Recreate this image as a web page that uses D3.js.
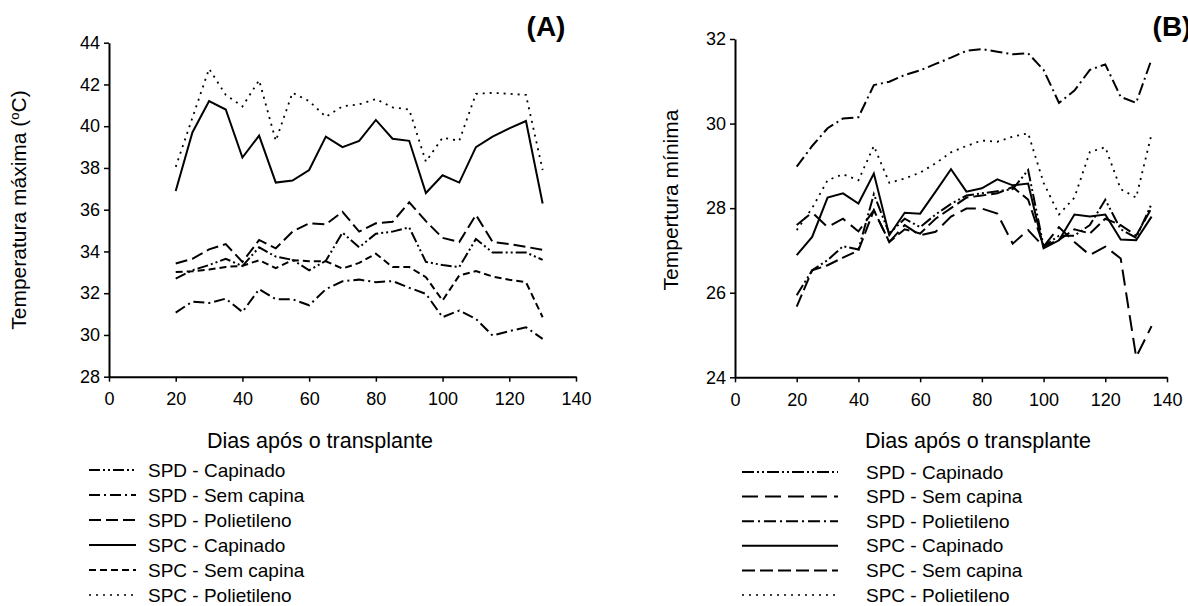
<!DOCTYPE html>
<html>
<head>
<meta charset="utf-8">
<script src="https://cdn.jsdelivr.net/npm/d3@7"></script>
<style>
    body { margin: 0; background: #fff; }
    svg { display: block; font-family: Arial, "Liberation Sans", sans-serif; }
</style>
</head>
<body>
<svg id="chart" width="1188" height="606"></svg>
<script>
/* ============================================
   TEMPERATURA MAXIMA (A) E MINIMA (B)
   ============================================ */

const seriesNames = ['SPD - Capinado', 'SPD - Sem capina', 'SPD - Polietileno',
                     'SPC - Capinado', 'SPC - Sem capina', 'SPC - Polietileno'];

// Painel A - temperatura máxima
const daysA = [20, 25, 30, 35, 40, 45, 50, 55, 60, 65, 70, 75, 80, 85, 90, 95, 100, 105, 110, 115, 120, 125, 130];
const spdCapinadoA   = [32.7, 33.1, 33.35, 33.65, 33.3, 34.2, 33.75, 33.6, 33.1, 33.55, 34.9, 34.2, 34.85, 34.95, 35.15, 33.5, 33.35, 33.25, 34.6, 33.95, 33.95, 33.95, 33.6];
const spdSemCapinaA  = [31.07, 31.6, 31.53, 31.74, 31.1, 32.19, 31.71, 31.71, 31.42, 32.19, 32.57, 32.65, 32.53, 32.58, 32.26, 31.97, 30.85, 31.17, 30.77, 29.97, 30.18, 30.37, 29.81];
const spdPolietilenoA = [33.42, 33.65, 34.1, 34.35, 33.5, 34.55, 34.15, 34.95, 35.35, 35.3, 35.9, 34.95, 35.35, 35.42, 36.35, 35.45, 34.65, 34.45, 35.75, 34.45, 34.35, 34.22, 34.08];
const spcCapinadoA   = [36.9, 39.7, 41.2, 40.8, 38.5, 39.55, 37.3, 37.4, 37.9, 39.5, 39.0, 39.3, 40.3, 39.4, 39.3, 36.8, 37.65, 37.3, 39.0, 39.5, 39.9, 40.25, 36.3];
const spcSemCapinaA  = [33.02, 33.05, 33.13, 33.26, 33.31, 33.58, 33.2, 33.58, 33.53, 33.53, 33.18, 33.45, 33.89, 33.25, 33.25, 32.77, 31.65, 32.85, 33.06, 32.8, 32.64, 32.53, 30.85];
const spcPolietilenoA = [38.05, 40.4, 42.75, 41.5, 40.95, 42.2, 39.3, 41.6, 41.2, 40.45, 40.95, 41.05, 41.3, 40.9, 40.8, 38.3, 39.45, 39.3, 41.55, 41.6, 41.55, 41.5, 37.9];

// Painel B - temperatura mínima
const daysB = [20, 25, 30, 35, 40, 45, 50, 55, 60, 65, 70, 75, 80, 85, 90, 95, 100, 105, 110, 115, 120, 125, 130, 135];
const spdCapinadoB   = [25.94, 26.53, 26.77, 27.1, 27.02, 28.33, 27.4, 27.75, 27.55, 27.85, 28.1, 28.3, 28.35, 28.4, 28.45, 28.9, 27.1, 27.35, 27.35, 27.6, 28.2, 27.5, 27.3, 28.1];
const spdSemCapinaB  = [27.6, 27.9, 27.55, 27.75, 27.45, 27.95, 27.2, 27.6, 27.36, 27.44, 27.8, 27.99, 27.99, 27.87, 27.16, 27.48, 27.09, 27.55, 27.2, 26.89, 27.09, 26.81, 24.48, 25.21];
const spdPolietilenoB = [28.98, 29.47, 29.89, 30.12, 30.15, 30.91, 30.99, 31.15, 31.26, 31.41, 31.56, 31.72, 31.76, 31.7, 31.64, 31.66, 31.27, 30.49, 30.78, 31.27, 31.4, 30.63, 30.49, 31.52];
const spcCapinadoB   = [26.89, 27.32, 28.25, 28.35, 28.11, 28.82, 27.36, 27.89, 27.87, 28.39, 28.92, 28.39, 28.47, 28.68, 28.54, 28.58, 27.05, 27.24, 27.85, 27.8, 27.85, 27.26, 27.24, 27.8];
const spcSemCapinaB  = [25.67, 26.53, 26.65, 26.83, 27.0, 27.95, 27.2, 27.5, 27.4, 27.75, 28.0, 28.25, 28.3, 28.35, 28.5, 28.2, 27.1, 27.25, 27.5, 27.4, 27.75, 27.6, 27.35, 28.0];
const spcPolietilenoB = [27.48, 28.0, 28.66, 28.8, 28.66, 29.47, 28.6, 28.7, 28.84, 29.06, 29.32, 29.47, 29.6, 29.57, 29.69, 29.77, 28.6, 27.85, 28.25, 29.33, 29.44, 28.45, 28.25, 29.75];

const xTicks = [0, 20, 40, 60, 80, 100, 120, 140];
const yTicksA = [28, 30, 32, 34, 36, 38, 40, 42, 44];
const yTicksB = [24, 26, 28, 30, 32];

// Estilos de linha (mesma ordem de seriesNames)
const dashA = ['11,3,2,3,2,3', '11,4,2,4', '12,5', null, '7,4', '2,5'];
const dashB = ['12,3,2,3,2,3', '16,7', '12,4,2,4', null, '13,5', '2,5'];

const svg = d3.select('#chart');

function drawPanel(cfg) {
    const x = d3.scaleLinear().domain([0, 140]).range(cfg.xRange);
    const y = d3.scaleLinear().domain(cfg.yDomain).range(cfg.yRange);
    const g = svg.append('g');

    // Eixos
    const xAxis = g.append('g')
        .attr('transform', `translate(0,${cfg.yRange[0]})`)
        .call(d3.axisBottom(x).tickValues(xTicks).tickSize(5).tickSizeOuter(0).tickPadding(11));
    const yAxis = g.append('g')
        .attr('transform', `translate(${cfg.xRange[0]},0)`)
        .call(d3.axisLeft(y).tickValues(cfg.yTicks).tickSize(5).tickSizeOuter(0).tickPadding(4));

    [xAxis, yAxis].forEach(a => {
        a.select('.domain').attr('stroke', '#000').attr('stroke-width', 2);
        a.selectAll('.tick line').attr('stroke', '#000').attr('stroke-width', 1.5);
        a.selectAll('.tick text').attr('fill', '#000').attr('font-size', '18px')
            .attr('font-family', 'Arial, "Liberation Sans", sans-serif');
    });

    // Linhas das séries
    const line = d3.line().x((d, i) => x(cfg.days[i])).y(d => y(d));
    cfg.series.forEach((values, i) => {
        g.append('path')
            .datum(values)
            .attr('fill', 'none')
            .attr('stroke', '#000')
            .attr('stroke-width', cfg.dash[i] === '2,5' ? 1.8 : 2)
            .attr('stroke-dasharray', cfg.dash[i])
            .attr('stroke-linejoin', 'miter')
            .attr('d', line);
    });

    // Título do eixo X
    g.append('text')
        .attr('x', cfg.xTitleX)
        .attr('y', 448)
        .attr('text-anchor', 'middle')
        .attr('font-size', '21.5px')
        .text('Dias após o transplante');

    // Título do eixo Y
    const yt = g.append('text')
        .attr('transform', `translate(${cfg.yTitleX},${cfg.yTitleY}) rotate(-90)`)
        .attr('text-anchor', 'middle')
        .attr('font-size', '21px');
    cfg.yTitle(yt);

    // Letra do painel
    g.append('text')
        .attr('x', cfg.letterX)
        .attr('y', 36)
        .attr('text-anchor', 'middle')
        .attr('font-size', '28px')
        .attr('font-weight', 'bold')
        .text(cfg.letter);

    // Legenda
    const leg = g.append('g');
    seriesNames.forEach((name, i) => {
        const ly = cfg.legendY + i * cfg.legendStep;
        leg.append('line')
            .attr('x1', cfg.legendX[0]).attr('x2', cfg.legendX[1])
            .attr('y1', ly).attr('y2', ly)
            .attr('stroke', '#000')
            .attr('stroke-width', cfg.dash[i] === '2,5' ? 1.5 : 2)
            .attr('stroke-dasharray', cfg.dash[i]);
        leg.append('text')
            .attr('x', cfg.legendText)
            .attr('y', ly)
            .attr('dy', '0.35em')
            .attr('font-size', '19px')
            .text(name);
    });
}

drawPanel({
    xRange: [109, 576], yDomain: [28, 44], yRange: [376.7, 42.7], yTicks: yTicksA,
    days: daysA,
    series: [spdCapinadoA, spdSemCapinaA, spdPolietilenoA, spcCapinadoA, spcSemCapinaA, spcPolietilenoA],
    dash: dashA,
    xTitleX: 320, yTitleX: 26, yTitleY: 210,
    yTitle: t => {
        t.append('tspan').text('Temperatura máxima (');
        t.append('tspan').attr('font-size', '13px').attr('dy', '-7').text('o');
        t.append('tspan').attr('dy', '7').text('C)');
    },
    letter: '(A)', letterX: 546,
    legendX: [89, 136], legendText: 148, legendY: 470, legendStep: 25
});

drawPanel({
    xRange: [735, 1167], yDomain: [24, 32], yRange: [377.3, 39], yTicks: yTicksB,
    days: daysB,
    series: [spdCapinadoB, spdSemCapinaB, spdPolietilenoB, spcCapinadoB, spcSemCapinaB, spcPolietilenoB],
    dash: dashB,
    xTitleX: 978, yTitleX: 678, yTitleY: 200,
    yTitle: t => t.text('Tempertura mínima'),
    letter: '(B)', letterX: 1172,
    legendX: [742, 838], legendText: 866, legendY: 472, legendStep: 24.6
});
</script>
</body>
</html>
